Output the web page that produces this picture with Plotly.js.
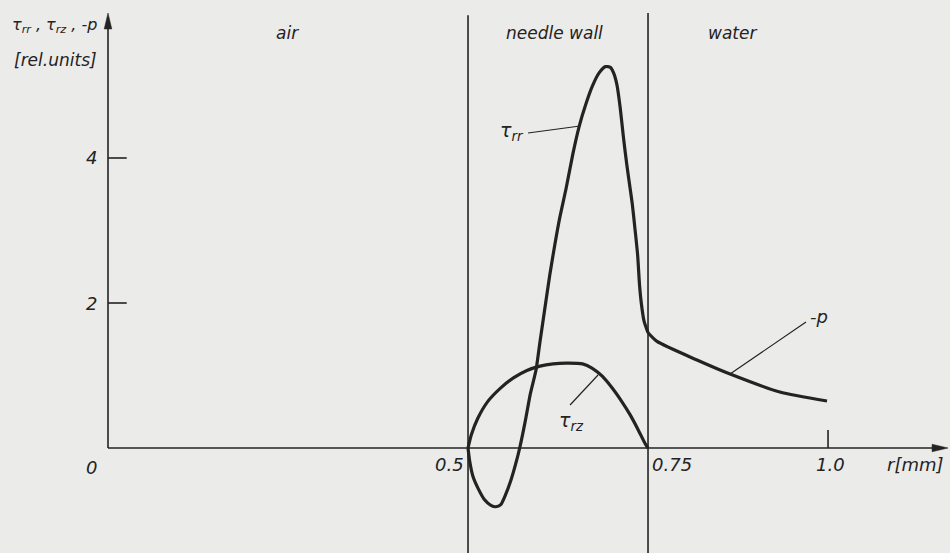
<!DOCTYPE html>
<html>
<head>
<meta charset="utf-8">
<script src="https://cdn.plot.ly/plotly-3.0.1.min.js"></script>
<style>
html,body{margin:0;padding:0;background:#ebebe9;}
#chart{width:950px;height:553px;}
</style>
</head>
<body>
<div id="chart"></div>
<script>
// ---- data ----
// tau_rr inside the needle wall, r in mm, value in rel. units
var rTauRR = [0.5, 0.5023, 0.5068, 0.5136, 0.5227, 0.5318, 0.5386, 0.5455, 0.5523, 0.5591, 0.5659, 0.5718,
              0.5795, 0.5864, 0.5945, 0.6, 0.6068, 0.6136, 0.6205, 0.6273, 0.6364, 0.6455, 0.6545, 0.6636,
              0.6727, 0.6818, 0.6909, 0.6977, 0.7023, 0.7068, 0.7114, 0.7159, 0.7205, 0.725, 0.7282, 0.7318,
              0.7355, 0.7382, 0.7409, 0.7445, 0.75];
var tauRR  = [0, -0.18, -0.39, -0.55, -0.71, -0.79, -0.81, -0.78, -0.64, -0.46, -0.23, 0,
              0.37, 0.74, 1.08, 1.47, 1.93, 2.39, 2.80, 3.17, 3.59, 4.05, 4.44, 4.74,
              4.99, 5.17, 5.26, 5.25, 5.17, 5.01, 4.69, 4.28, 3.91, 3.59, 3.36, 3.03,
              2.67, 2.25, 1.98, 1.75, 1.59];
// tau_rz inside the needle wall
var rTauRZ = [0.5, 0.5045, 0.5136, 0.5273, 0.5455, 0.5636, 0.5818, 0.6, 0.6182, 0.6364, 0.6591,
              0.6727, 0.6864, 0.7, 0.7136, 0.725, 0.7364, 0.7455, 0.75];
var tauRZ  = [0, 0.18, 0.41, 0.64, 0.83, 0.97, 1.07, 1.13, 1.16, 1.17, 1.16,
              1.10, 0.99, 0.83, 0.64, 0.46, 0.25, 0.07, 0];
// -p in water
var rP     = [0.75, 0.7625, 0.818, 0.864, 0.933, 0.9986];
var minusP = [1.59, 1.47, 1.214, 1.02, 0.772, 0.648];

// axis tick labels
var yTickVals = [0, 2, 4];
var yTickText = ['0', '2', '4'];
var xTickVals = [0.5, 0.75, 1.0];
var xTickText = ['0.5', '0.75', '1.0'];
var regionNames = ['air', 'needle wall', 'water'];
var regionCenters = [0.2486, 0.6208, 0.868];

var ink = '#232323';
var fontFam = 'DejaVu Sans, sans-serif';
var curveStyle = {color: ink, width: 3.2, shape: 'spline', smoothing: 0.6};

var traces = [
  {x: rTauRR, y: tauRR, mode: 'lines', line: curveStyle, hoverinfo: 'skip'},
  {x: rTauRZ, y: tauRZ, mode: 'lines', line: curveStyle, hoverinfo: 'skip'},
  {x: rP, y: minusP, mode: 'lines', line: curveStyle, hoverinfo: 'skip'}
];

var thin = {color: ink, width: 1.6};
var shapes = [
  // y axis
  {type: 'line', xref: 'x', yref: 'y', x0: 0, x1: 0, y0: 0, y1: 5.85, line: thin},
  // x axis
  {type: 'line', xref: 'x', yref: 'y', x0: 0, x1: 1.15, y0: 0, y1: 0, line: thin},
  // boundaries of the needle wall
  {type: 'line', xref: 'x', yref: 'y', x0: 0.5, x1: 0.5, y0: -2, y1: 5.97, line: thin},
  {type: 'line', xref: 'x', yref: 'y', x0: 0.75, x1: 0.75, y0: -2, y1: 6.0, line: thin},
  // arrowheads
  {type: 'path', xref: 'x', yref: 'y', xsizemode: 'pixel', ysizemode: 'pixel', xanchor: 0, yanchor: 6.0,
   path: 'M0,0 L-3.8,-16 L3.8,-16 Z', fillcolor: ink, line: {color: ink, width: 0.5}},
  {type: 'path', xref: 'x', yref: 'y', xsizemode: 'pixel', ysizemode: 'pixel', xanchor: 1.1667, yanchor: 0,
   path: 'M0,0 L-16,-3.8 L-16,3.8 Z', fillcolor: ink, line: {color: ink, width: 0.5}},
  // leader lines for curve labels
  {type: 'line', xref: 'x', yref: 'y', x0: 0.5833, y0: 4.345, x1: 0.6556, y1: 4.441, line: {color: ink, width: 1.2}},
  {type: 'line', xref: 'x', yref: 'y', x0: 0.6417, y0: 0.593, x1: 0.6806, y1: 1.007, line: {color: ink, width: 1.2}},
  {type: 'line', xref: 'x', yref: 'y', x0: 0.8639, y0: 1.021, x1: 0.9694, y1: 1.738, line: {color: ink, width: 1.2}}
];
// y tick marks (inside, to the right)
[2, 4].forEach(function (v) {
  shapes.push({type: 'line', xref: 'x', yref: 'y', x0: 0, x1: 0.026, y0: v, y1: v, line: thin});
});
// x tick mark at 1.0 (upwards)
shapes.push({type: 'line', xref: 'x', yref: 'y', x0: 1.0, x1: 1.0, y0: 0, y1: 0.25, line: thin});

function txt(x, y, t, size, xanchor) {
  return {x: x, y: y, xref: 'x', yref: 'y', text: t, showarrow: false,
          xanchor: xanchor || 'center', yanchor: 'middle',
          font: {family: fontFam, size: size || 16, color: ink, style: 'italic'}};
}

var annotations = [];
// y tick labels
var yLabelY = [-0.262, 2.0, 4.0];
yTickVals.forEach(function (v, i) {
  annotations.push(txt(-0.0235, yLabelY[i], yTickText[i], 18));
});
// x tick labels
var xLabelX = [0.4736, 0.7833, 1.0028];
xTickVals.forEach(function (v, i) {
  annotations.push(txt(xLabelX[i], -0.234, xTickText[i], 18));
});
annotations.push(txt(1.1208, -0.234, 'r[mm]', 18));
// axis title
annotations.push(txt(-0.0750, 5.83, 'τ<sub>rr</sub> , τ<sub>rz</sub> , -p', 16));
annotations.push(txt(-0.0736, 5.35, '[rel.units]', 17));
// region names
regionNames.forEach(function (n, i) {
  annotations.push(txt(regionCenters[i], 5.724, n, 17));
});
// curve labels
annotations.push(txt(0.5611, 4.372, 'τ<sub>rr</sub>', 19));
annotations.push(txt(0.6444, 0.372, 'τ<sub>rz</sub>', 19));
annotations.push(txt(0.9875, 1.807, '-p', 18));

var layout = {
  width: 950, height: 553,
  margin: {l: 0, r: 0, t: 0, b: 0},
  paper_bgcolor: '#ebebe9', plot_bgcolor: '#ebebe9',
  showlegend: false,
  xaxis: {range: [-0.15, 1.1694], visible: false, fixedrange: true},
  yaxis: {range: [-1.448, 6.179], visible: false, fixedrange: true},
  shapes: shapes,
  annotations: annotations
};

Plotly.newPlot('chart', traces, layout, {displayModeBar: false, staticPlot: true});
</script>
</body>
</html>
